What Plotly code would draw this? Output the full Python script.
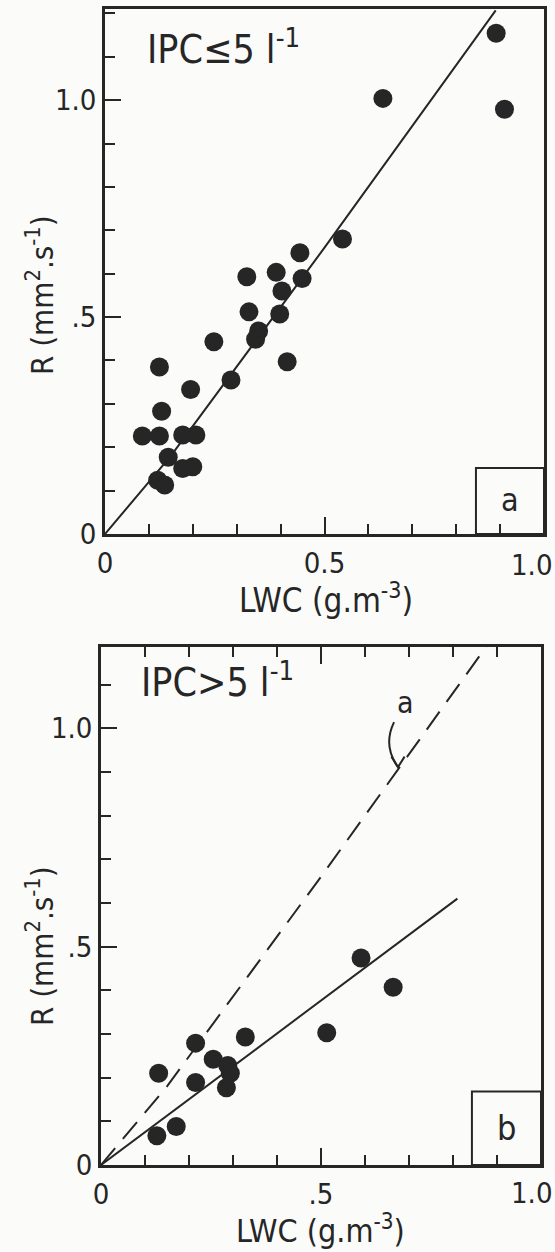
import plotly.graph_objects as go

# panel a : IPC <= 5 l-1
lwc_a = [0.891, 0.633, 0.910, 0.541, 0.444, 0.323, 0.390, 0.449, 0.403, 0.328,
         0.398, 0.350, 0.343, 0.248, 0.415, 0.124, 0.287, 0.195, 0.129, 0.085,
         0.124, 0.177, 0.207, 0.144, 0.177, 0.200, 0.120, 0.136]
r_a = [1.154, 1.004, 0.979, 0.680, 0.648, 0.593, 0.603, 0.589, 0.560, 0.512,
       0.507, 0.468, 0.449, 0.443, 0.397, 0.385, 0.355, 0.333, 0.283, 0.226,
       0.226, 0.228, 0.228, 0.177, 0.151, 0.155, 0.124, 0.113]
# fitted curve of panel a (also shown dashed in panel b)
fit_a_x = [0, 0.15, 0.5, 0.89]
fit_a_y = [0, 0.18, 0.66, 1.207]

# panel b : IPC > 5 l-1
lwc_b = [0.591, 0.664, 0.513, 0.328, 0.215, 0.255, 0.288, 0.294, 0.131,
         0.215, 0.285, 0.171, 0.127]
r_b = [0.474, 0.407, 0.303, 0.293, 0.279, 0.242, 0.228, 0.210, 0.210,
       0.189, 0.177, 0.088, 0.067]
fit_b_x = [0, 0.81]
fit_b_y = [0, 0.61]

tick_x_a = ["0", "0.5"]
tick_x_b = ["0", ".5"]
tick_y = ["0", ".5", "1.0"]

INK = "#262626"
FONT = "Liberation Sans Narrow, DejaVu Sans Condensed, Liberation Sans, sans-serif"
W, H = 555, 1252

fig = go.Figure()
fig.add_trace(go.Scatter(x=fit_a_x, y=fit_a_y, mode="lines",
                         line=dict(color=INK, width=2), xaxis="x", yaxis="y"))
fig.add_trace(go.Scatter(x=lwc_a, y=r_a, mode="markers",
                         marker=dict(color=INK, size=19), xaxis="x", yaxis="y"))
fig.add_trace(go.Scatter(x=fit_a_x, y=fit_a_y, mode="lines",
                         line=dict(color=INK, width=2, dash="22px,12px"),
                         xaxis="x2", yaxis="y2"))
fig.add_trace(go.Scatter(x=fit_b_x, y=fit_b_y, mode="lines",
                         line=dict(color=INK, width=2), xaxis="x2", yaxis="y2"))
fig.add_trace(go.Scatter(x=lwc_b, y=r_b, mode="markers",
                         marker=dict(color=INK, size=19), xaxis="x2", yaxis="y2"))


# pixel positions -> paper fractions
def px(x):
    return x / W


def py(y):
    return 1 - y / H


def xaxis(dom, labels, mirror):
    return dict(domain=dom, range=[0, 1.0], showgrid=False, zeroline=False,
                automargin=False, ticklabeloverflow="allow",
                showline=True, linecolor=INK, linewidth=2.5, mirror=mirror,
                ticks="inside", ticklen=17, tickwidth=2, tickcolor=INK,
                tickvals=[0, 0.5], ticktext=labels, ticklabelstandoff=1,
                tickfont=dict(family=FONT, size=29, color=INK),
                minor=dict(tickmode="linear", tick0=0, dtick=0.1, ticks="inside",
                           ticklen=10, tickwidth=2, tickcolor=INK))


def yaxis(dom, rng, anchor):
    return dict(domain=dom, range=rng, anchor=anchor, showgrid=False, zeroline=False,
                automargin=False, ticklabeloverflow="allow",
                showline=True, linecolor=INK, linewidth=2.5, mirror=True,
                ticks="inside", ticklen=16, tickwidth=2, tickcolor=INK,
                tickvals=[0, 0.5, 1.0], ticktext=tick_y, ticklabelstandoff=0,
                tickfont=dict(family=FONT, size=29, color=INK),
                minor=dict(tickmode="linear", tick0=0, dtick=0.1, ticks="inside",
                           ticklen=10, tickwidth=2, tickcolor=INK))


fig.update_layout(
    width=W, height=H, showlegend=False,
    margin=dict(l=0, r=0, t=0, b=0, autoexpand=False),
    paper_bgcolor="#fbfbfa", plot_bgcolor="#fbfbfa",
    xaxis=dict(xaxis([px(105), px(544)], tick_x_a, True), anchor="y"),
    yaxis=yaxis([py(534), py(9)], [0, 1.21], "x"),
    xaxis2=dict(xaxis([px(101), px(541)], tick_x_b, "ticks"), anchor="y2"),
    yaxis2=yaxis([py(1165), py(647)], [0, 1.186], "x2"),
)

# panel letter boxes
fig.add_shape(type="rect", xref="x", yref="y", x0=0.845, x1=1.0, y0=0, y1=0.152,
              line=dict(color=INK, width=2))
fig.add_shape(type="rect", xref="x2", yref="y2", x0=0.843, x1=1.0, y0=0, y1=0.168,
              line=dict(color=INK, width=2))

# curved arrow pointing at the dashed line
fig.add_shape(type="path", xref="x2", yref="y2",
              path="M 0.666,1.014 Q 0.640,0.960 0.675,0.911",
              line=dict(color=INK, width=2))
fig.add_shape(type="path", xref="x2", yref="y2",
              path="M 0.660,0.935 L 0.675,0.911 L 0.690,0.935",
              line=dict(color=INK, width=2))

txt = dict(family=FONT, color=INK)
ann = [
    dict(text="IPC≤5 l<sup>-1</sup>", xref="x domain", yref="y domain", x=0.09, y=0.928,
         xanchor="left", font=dict(txt, size=39)),
    dict(text="IPC>5 l<sup>-1</sup>", xref="x2 domain", yref="y2 domain", x=0.087, y=0.936,
         xanchor="left", font=dict(txt, size=39)),
    dict(text="a", xref="x", yref="y", x=0.922, y=0.078, font=dict(txt, size=32)),
    dict(text="b", xref="x2", yref="y2", x=0.921, y=0.084, font=dict(txt, size=34)),
    dict(text="a", xref="x2", yref="y2", x=0.693, y=1.06, font=dict(txt, size=30)),
    # right-end x labels, kept inside the window
    dict(text="1.0", xref="paper", yref="paper", x=px(554), y=py(565), xanchor="right",
         font=dict(txt, size=29)),
    dict(text="1.0", xref="paper", yref="paper", x=px(554), y=py(1193), xanchor="right",
         font=dict(txt, size=29)),
    dict(text="LWC (g.m<sup>-3</sup>)", xref="paper", yref="paper", x=px(326), y=py(598),
         font=dict(txt, size=33)),
    dict(text="LWC (g.m<sup>-3</sup>)", xref="paper", yref="paper", x=px(320), y=py(1229),
         font=dict(txt, size=32)),
    dict(text="R (mm<sup>2</sup>.s<sup>-1</sup>)", xref="paper", yref="paper", x=px(40),
         y=py(295), textangle=-90, font=dict(txt, size=31)),
    dict(text="R (mm<sup>2</sup>.s<sup>-1</sup>)", xref="paper", yref="paper", x=px(40),
         y=py(946), textangle=-90, font=dict(txt, size=31)),
]
for a in ann:
    a.setdefault("showarrow", False)
    a.setdefault("xanchor", "center")
    a.setdefault("yanchor", "middle")
    fig.add_annotation(**a)

# drop the default page margin so the figure sits at the window's corner
fig.write_html("out.html", config={"displayModeBar": False},
               post_script="document.body.style.margin='0';"
                           "document.body.style.overflow='hidden';")
